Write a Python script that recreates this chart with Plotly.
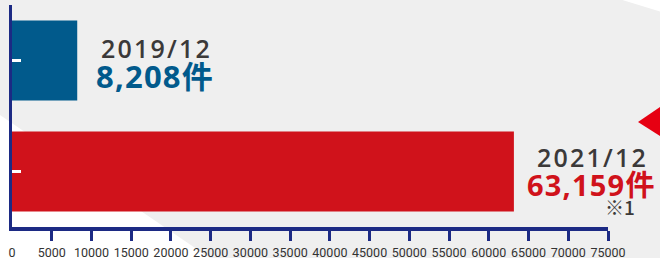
import plotly.graph_objects as go

# ---- data ----
categories = ["2019/12", "2021/12"]
values = [8208, 63159]
value_labels = ["8,208件", "63,159件"]
bar_colors = ["#015a8c", "#d0121b"]
tick_values = [0, 5000, 10000, 15000, 20000, 25000, 30000, 35000, 40000,
               45000, 50000, 55000, 60000, 65000, 70000, 75000]
tick_labels = [str(v) for v in tick_values]
note_text = "※1"

NAVY = "#1c2a84"

fig = go.Figure()
fig.add_trace(go.Bar(
    x=values, y=categories, orientation="h",
    marker=dict(color=bar_colors, line=dict(width=0)),
    width=0.72, hoverinfo="skip",
))

def spaced(text, ls):
    return f'<span style="letter-spacing:{ls}px">{text}</span>'

annotations = []
year_shift = [13, 15]
count_shift = [-15.8, -12.8]
count_size = [31, 29]
for i, (cat, val) in enumerate(zip(categories, values)):
    annotations.append(dict(
        x=val, y=cat, xref="x", yref="y", xanchor="center", yanchor="middle",
        xshift=79, yshift=year_shift[i], showarrow=False,
        text=spaced(cat, 2.2),
        font=dict(family="Open Sans", size=25, color="#3b3939", weight=600),
    ))
    annotations.append(dict(
        x=val, y=cat, xref="x", yref="y", xanchor="center", yanchor="middle",
        xshift=78, yshift=count_shift[i], showarrow=False,
        text=spaced(value_labels[i], 1.2),
        font=dict(family="Open Sans, Noto Sans CJK JP", size=count_size[i],
                  color=bar_colors[i], weight="bold"),
    ))
annotations.append(dict(
    x=values[1], y=categories[1], xref="x", yref="y", xanchor="center",
    yanchor="middle", xshift=106, yshift=-35, showarrow=False,
    text=note_text,
    font=dict(family="Noto Sans CJK JP", size=19, color="#3b3939", weight=500),
))

shapes = [
    # white background wedge bottom-left
    dict(type="path", xref="paper", yref="paper", layer="below",
         path="M -0.0201 0.5045 L -0.0201 -0.14 L 0.3322 -0.14 Z",
         fillcolor="#ffffff", line=dict(width=0)),
    # white wedge top-right
    dict(type="path", xref="paper", yref="paper", layer="below",
         path="M 1.0235 1.023 L 1.09 1.023 L 1.09 0.9685 Z",
         fillcolor="#ffffff", line=dict(width=0)),
    # red arrow at right edge
    dict(type="path", xref="paper", yref="paper", layer="above",
         path="M 1.0503 0.473 L 1.09 0.545 L 1.09 0.405 Z",
         fillcolor="#e60012", line=dict(width=0)),
]

fig.update_layout(
    width=660, height=258,
    margin=dict(l=12, r=52, t=5, b=31, autoexpand=False),
    paper_bgcolor="#efefef", plot_bgcolor="rgba(0,0,0,0)",
    showlegend=False, bargap=0.28,
    annotations=annotations, shapes=shapes,
    xaxis=dict(
        range=[0, 75000], showgrid=False, zeroline=False, automargin=False,
        showline=True, linecolor=NAVY, linewidth=3.5,
        tickmode="array", tickvals=tick_values, ticktext=tick_labels,
        ticks="", ticklabelstandoff=11,
        tickfont=dict(family="Liberation Sans Narrow, Roboto, sans-serif",
                      size=12.5, color="#333333"),
        minor=dict(tickmode="array", tickvals=tick_values[1:], ticks="outside",
                   ticklen=10, tickwidth=3, tickcolor=NAVY, showgrid=False),
        fixedrange=True,
    ),
    yaxis=dict(
        categoryorder="array", categoryarray=categories, autorange="reversed",
        range=[1.5, -0.5], showgrid=False, zeroline=False, automargin=False,
        showline=True, linecolor=NAVY, linewidth=3.5,
        ticks="inside", ticklen=9, tickwidth=3, tickcolor="#ffffff",
        showticklabels=False, fixedrange=True,
    ),
)

fig.write_html(
    "out.html",
    config={"displayModeBar": False, "staticPlot": True},
    post_script="document.body.style.margin='0';document.body.style.overflow='hidden';",
)
